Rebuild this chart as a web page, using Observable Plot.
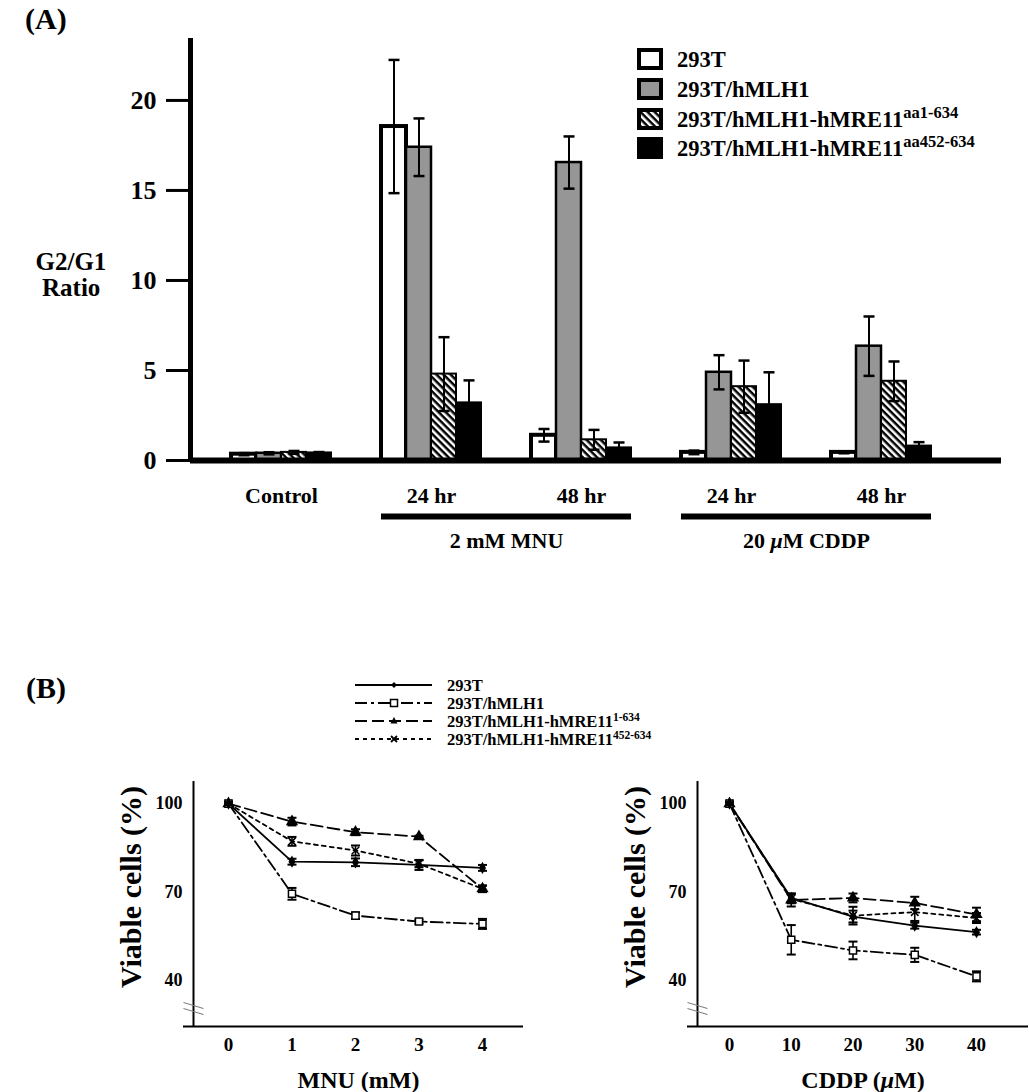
<!DOCTYPE html>
<html><head><meta charset="utf-8">
<script src="https://cdn.jsdelivr.net/npm/d3@7"></script>
<script src="https://cdn.jsdelivr.net/npm/@observablehq/plot@0.6"></script>
<style>
body{margin:0;background:#fff;}
#fig{position:relative;width:1029px;height:1092px;font-family:"Liberation Serif","Times New Roman",serif;font-weight:bold;color:#000;overflow:hidden;background:#fff}
.lbl{position:absolute;white-space:nowrap;line-height:1;text-align:center}
</style></head><body><div id="fig"></div>
<script>
// ---------------- Panel A data ----------------
const groupLabels = ["Control", "24 hr", "48 hr", "24 hr", "48 hr"];
const treatmentLabels = ["2 mM MNU", "20 \u03bcM CDDP"];
const treatmentFrom = [1, 3];
const treatmentTo = [2, 4];
const seriesA = ["293T", "293T/hMLH1", "293T/hMLH1-hMRE11", "293T/hMLH1-hMRE11"];
const seriesASup = ["", "", "aa1-634", "aa452-634"];
const ratio293T       = [0.35, 18.55, 1.4, 0.45, 0.45];
const ratioMLH1       = [0.4, 17.4, 16.55, 4.9, 6.35];
const ratioMRE1_634   = [0.45, 4.8, 1.15, 4.1, 4.4];
const ratioMRE452_634 = [0.42, 3.2, 0.7, 3.1, 0.8];
const err293T         = [0.06, 3.7, 0.35, 0.1, 0.05];
const errMLH1         = [0.06, 1.6, 1.45, 0.95, 1.65];
const errMRE1_634     = [0.08, 2.05, 0.55, 1.45, 1.1];
const errMRE452_634   = [0.05, 1.25, 0.3, 1.8, 0.22];
const yTicksA = [0, 5, 10, 15, 20];

// ---------------- Panel B data ----------------
const seriesB = ["293T", "293T/hMLH1", "293T/hMLH1-hMRE11", "293T/hMLH1-hMRE11"];
const seriesBSup = ["", "", "1-634", "452-634"];
const mnuDose = [0, 1, 2, 3, 4];
const mnu293T         = [100, 80.3, 80.1, 79.2, 78.2];
const mnuMLH1         = [100, 69.4, 62.0, 60.0, 59.2];
const mnuMRE1_634     = [100, 93.9, 90.3, 88.8, 71.1];
const mnuMRE452_634   = [100, 87.2, 84.1, 79.6, 71.1];
const mnuErr293T       = [0.5, 1.0, 1.3, 1.7, 1.0];
const mnuErrMLH1       = [0.5, 2.0, 1.1, 0.7, 1.7];
const mnuErrMRE1_634   = [0.5, 1.3, 1.0, 0.3, 1.1];
const mnuErrMRE452_634 = [0.5, 1.5, 1.7, 1.2, 1.1];
const cddpDose = [0, 10, 20, 30, 40];
const cddp293T        = [100, 68.0, 61.7, 58.6, 56.4];
const cddpMLH1        = [100, 53.8, 50.2, 48.7, 41.4];
const cddpMRE1_634    = [100, 67.3, 68.0, 66.3, 62.4];
const cddpMRE452_634  = [100, 67.7, 62.0, 63.2, 61.2];
const cddpErr293T       = [0.5, 1.5, 2.0, 1.0, 0.8];
const cddpErrMLH1       = [0.5, 5.0, 3.0, 2.4, 1.7];
const cddpErrMRE1_634   = [0.5, 2.2, 1.5, 2.1, 2.3];
const cddpErrMRE452_634 = [0.5, 1.5, 3.0, 3.0, 1.7];
const yTicksB = [40, 70, 100];

// ---------------- helpers ----------------
const FONT = '"Liberation Serif","Times New Roman",serif';
const fig = document.getElementById("fig");
function place(node, left, top) {
  node.style.position = "absolute";
  node.style.left = left + "px";
  node.style.top = top + "px";
  fig.appendChild(node);
}
function label(html, cx, cy, size) {
  const d = document.createElement("div");
  d.className = "lbl";
  d.innerHTML = html;
  d.style.fontSize = size + "px";
  fig.appendChild(d);
  const w = d.offsetWidth, h = d.offsetHeight;
  d.style.left = (cx - w / 2) + "px";
  d.style.top = (cy - h / 2) + "px";
}
function italicMu(svg) {
  svg.querySelectorAll("text").forEach(t => {
    if (t.children.length === 0 && t.textContent.includes("\u03bc")) {
      t.innerHTML = t.textContent.replace("\u03bc", '<tspan font-style="italic">\u03bc</tspan>');
    }
  });
}
const capSymbol = {draw(ctx, size) { const r = Math.sqrt(size / Math.PI); ctx.moveTo(-r, 0); ctx.lineTo(r, 0); }};
const breakSymbol = {draw(ctx, size) { const r = Math.sqrt(size / Math.PI); ctx.moveTo(-r, -0.6 * r); ctx.lineTo(r, 0); ctx.moveTo(-r, 0); ctx.lineTo(r, 0.6 * r); }};

// ---------------- Panel A ----------------
const ratios = [ratio293T, ratioMLH1, ratioMRE1_634, ratioMRE452_634];
const ratioErrs = [err293T, errMLH1, errMRE1_634, errMRE452_634];
const barRows = [];
ratios.forEach((arr, si) => arr.forEach((v, gi) => barRows.push({si, gi, v, e: ratioErrs[si][gi]})));
const BW = 1 / 6;
const xc = d => d.gi + (d.si - 1.5) * BW;
const fillA = ["white", "#969696", "url(#hatchA)", "black"];
const strokeWA = [4, 2.5, 2, 2];
const xDomA = [-0.6067, 4.8];
const yDomA = [0, 23.44];

const marksA = [];
fillA.forEach((f, si) => marksA.push(Plot.rect(barRows.filter(d => d.si === si), {
  x1: d => d.gi + (d.si - 2) * BW, x2: d => d.gi + (d.si - 1) * BW,
  y1: 0, y2: "v", fill: f, stroke: "black", strokeWidth: strokeWA[si]
})));
marksA.push(
  Plot.ruleX(barRows, {x: xc, y1: d => d.v - d.e, y2: d => d.v + d.e, stroke: "black", strokeWidth: 2}),
  Plot.dot(barRows, {x: xc, y: d => d.v + d.e, symbol: capSymbol, r: 5.5, fill: "none", stroke: "black", strokeWidth: 2.5}),
  Plot.dot(barRows, {x: xc, y: d => d.v - d.e, symbol: capSymbol, r: 5.5, fill: "none", stroke: "black", strokeWidth: 2.5}),
  Plot.ruleY([0], {stroke: "black", strokeWidth: 6}),
  Plot.ruleX([xDomA[0]], {y1: yDomA[0], y2: yDomA[1], stroke: "black", strokeWidth: 5}),
  Plot.axisY({ticks: yTicksA, tickSize: 24, tickPadding: 10, strokeWidth: 3, fontSize: 26, fontWeight: "bold", label: null}),
  Plot.text(groupLabels, {x: (d, i) => i, text: d => d, frameAnchor: "bottom", lineAnchor: "middle", textAnchor: "middle", dy: 35, fontSize: 22, fontWeight: "bold"}),
  Plot.ruleY(treatmentLabels, {y: () => 0, x1: (d, i) => treatmentFrom[i] - 2 * BW, x2: (d, i) => treatmentTo[i] + 2 * BW, dy: 56, stroke: "black", strokeWidth: 6}),
  Plot.text(treatmentLabels, {x: (d, i) => (treatmentFrom[i] + treatmentTo[i]) / 2, text: d => d, frameAnchor: "bottom", lineAnchor: "middle", textAnchor: "middle", dy: 80, fontSize: 22, fontWeight: "bold"})
);

const plotA = Plot.plot({
  width: 1029, height: 560,
  marginLeft: 190, marginRight: 28, marginTop: 38, marginBottom: 100,
  x: {type: "linear", domain: xDomA, axis: null},
  y: {domain: yDomA},
  style: {fontFamily: FONT, fontWeight: "bold", color: "black", background: "transparent", overflow: "visible"},
  marks: marksA
});
plotA.insertAdjacentHTML("afterbegin",
  '<defs><pattern id="hatchA" width="5" height="5" patternUnits="userSpaceOnUse" patternTransform="rotate(-45)"><rect width="5" height="5" fill="black"/><rect width="2.5" height="5" fill="white"/></pattern></defs>');
italicMu(plotA);
place(plotA, 0, 0);

// Legend A
{
  const rowsA = [59, 89, 119, 148];
  const fillL = ["white", "#969696", "url(#hatchL)", "black"];
  let s = '<svg xmlns="http://www.w3.org/2000/svg" width="1029" height="200" style="font-family:' + FONT.replace(/"/g, "'") + ';font-weight:bold">';
  s += '<defs><pattern id="hatchL" width="5" height="5" patternUnits="userSpaceOnUse" patternTransform="rotate(-45)"><rect width="5" height="5" fill="black"/><rect width="2.5" height="5" fill="white"/></pattern></defs>';
  seriesA.forEach((name, i) => {
    const cy = rowsA[i];
    s += `<rect x="639" y="${cy - 9}" width="22" height="18" fill="${fillL[i]}" stroke="black" stroke-width="4"/>`;
    s += `<text x="677" y="${cy + 8}" font-size="22.5">${name}${seriesASup[i] ? `<tspan dy="-9" font-size="16.5">${seriesASup[i]}</tspan>` : ""}</text>`;
  });
  s += "</svg>";
  const d = document.createElement("div");
  d.innerHTML = s;
  place(d.firstElementChild, 0, 0);
}
label("(A)", 46, 19, 30);
label("G2/G1", 71, 261, 25);
label("Ratio", 71, 287, 25);

// ---------------- Panel B ----------------
const dashB = [null, "12,4,3,4", "12,5", "4,4"];
const symB = ["diamond", "square", "triangle", "times"];
const symR = [2.8, 4, 3.6, 3.5];
const symFill = ["black", "white", "black", "none"];
const yDomB = [24.4, 107.5];
const yBreak = 30.5;

function viability(doses, vals, errs, xDom, w, mL, mR, xTitle) {
  const rows = [];
  vals.forEach((arr, si) => arr.forEach((v, i) => rows.push({si, dose: doses[i], v, e: errs[si][i]})));
  const ppu = (w - mL - mR) / (xDom[1] - xDom[0]);
  const marks = [
    Plot.ruleX([xDom[0]], {y1: yDomB[0], y2: yDomB[1], stroke: "black", strokeWidth: 2}),
    Plot.ruleY([yDomB[0]], {x1: xDom[0] - 10 / ppu, x2: xDom[1], stroke: "black", strokeWidth: 2}),
    Plot.dot([yBreak], {x: () => xDom[0], y: d => d, symbol: breakSymbol, r: 10, fill: "none", stroke: "#777", strokeWidth: 1}),
    Plot.axisY({ticks: yTicksB, tickSize: 0, tickPadding: 11, fontSize: 18, fontWeight: "bold", label: null}),
    Plot.axisX({ticks: doses, tickFormat: d => String(d), tickSize: 0, tickPadding: 11, fontSize: 19, fontWeight: "bold", label: null})
  ];
  [3, 2, 1, 0].forEach(si => {
    const data = rows.filter(d => d.si === si);
    marks.push(Plot.line(data, {x: "dose", y: "v", stroke: "black", strokeWidth: 1.8, strokeDasharray: dashB[si]}));
  });
  [3, 2, 1, 0].forEach(si => {
    const data = rows.filter(d => d.si === si);
    marks.push(
      Plot.ruleX(data, {x: "dose", y1: d => d.v - d.e, y2: d => d.v + d.e, stroke: "black", strokeWidth: 1.6}),
      Plot.dot(data, {x: "dose", y: d => d.v + d.e, symbol: capSymbol, r: 4.5, fill: "none", stroke: "black", strokeWidth: 2}),
      Plot.dot(data, {x: "dose", y: d => d.v - d.e, symbol: capSymbol, r: 4.5, fill: "none", stroke: "black", strokeWidth: 2}),
      Plot.dot(data, {x: "dose", y: "v", symbol: symB[si], r: symR[si], fill: symFill[si], stroke: "black", strokeWidth: 1.5})
    );
  });
  marks.push(
    Plot.text([xTitle], {text: d => d, frameAnchor: "bottom", lineAnchor: "middle", textAnchor: "middle", dy: 54, fontSize: 24, fontWeight: "bold"}),
    Plot.text(["Viable cells (%)"], {text: d => d, frameAnchor: "left", textAnchor: "middle", lineAnchor: "middle", rotate: -90, dx: -62, dy: -17, fontSize: 30, fontWeight: "bold"})
  );
  const p = Plot.plot({
    width: w, height: 332,
    marginLeft: mL, marginRight: mR, marginTop: 21, marginBottom: 66,
    x: {type: "linear", domain: xDom},
    y: {domain: yDomB},
    style: {fontFamily: FONT, fontWeight: "bold", color: "black", background: "transparent", overflow: "visible"},
    marks
  });
  italicMu(p);
  return p;
}

const plotB1 = viability(mnuDose, [mnu293T, mnuMLH1, mnuMRE1_634, mnuMRE452_634],
  [mnuErr293T, mnuErrMLH1, mnuErrMRE1_634, mnuErrMRE452_634], [-0.551, 4.646], 540, 193, 17, "MNU (mM)");
place(plotB1, 0, 760);
const plotB2 = viability(cddpDose, [cddp293T, cddpMLH1, cddpMRE1_634, cddpMRE452_634],
  [cddpErr293T, cddpErrMLH1, cddpErrMRE1_634, cddpErrMRE452_634], [-5.18, 48.42], 489, 157, 1, "CDDP (\u03bcM)");
place(plotB2, 540, 760);

// Legend B
{
  const rowsB = [685, 703, 721, 739];
  let s = '<svg xmlns="http://www.w3.org/2000/svg" width="1029" height="100" style="font-family:' + FONT.replace(/"/g, "'") + ';font-weight:bold">';
  const markerPath = [
    (x, y) => `<path d="M${x},${y - 3}L${x + 3},${y}L${x},${y + 3}L${x - 3},${y}Z" fill="black"/>`,
    (x, y) => `<rect x="${x - 3.5}" y="${y - 3.5}" width="7" height="7" fill="white" stroke="black" stroke-width="1.5"/>`,
    (x, y) => `<path d="M${x},${y - 4}L${x + 3.5},${y + 2.5}L${x - 3.5},${y + 2.5}Z" fill="black"/>`,
    (x, y) => `<path d="M${x - 3},${y - 3}L${x + 3},${y + 3}M${x - 3},${y + 3}L${x + 3},${y - 3}" stroke="black" stroke-width="1.8"/>`
  ];
  seriesB.forEach((name, i) => {
    const y = rowsB[i] - 660;
    s += `<line x1="355" x2="432" y1="${y}" y2="${y}" stroke="black" stroke-width="1.8"${dashB[i] ? ` stroke-dasharray="${dashB[i]}"` : ""}/>`;
    s += markerPath[i](394, y);
    s += `<text x="447" y="${y + 5.5}" font-size="16.5">${name}${seriesBSup[i] ? `<tspan dy="-6" font-size="11.5">${seriesBSup[i]}</tspan>` : ""}</text>`;
  });
  s += "</svg>";
  const d = document.createElement("div");
  d.innerHTML = s;
  place(d.firstElementChild, 0, 660);
}
label("(B)", 46, 688, 30);
</script></body></html>
